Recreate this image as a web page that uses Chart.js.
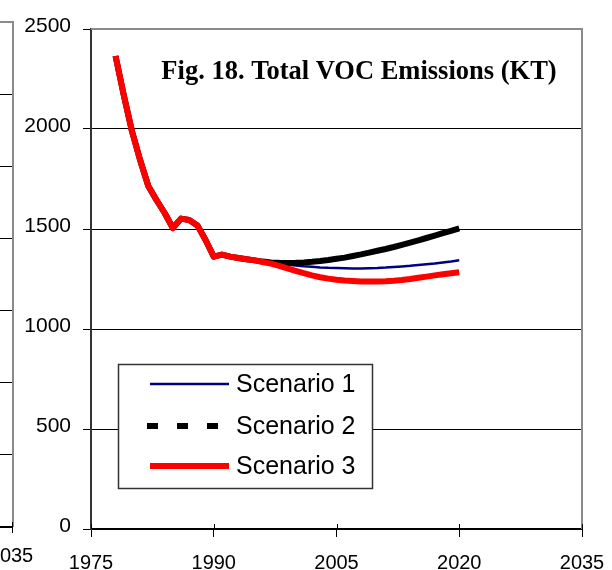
<!DOCTYPE html>
<html>
<head>
<meta charset="utf-8">
<script src="https://cdn.jsdelivr.net/npm/chart.js@4/dist/chart.umd.min.js"></script>
<style>
  html, body { margin: 0; padding: 0; background: #fff; }
  #wrap { width: 612px; height: 570px; }
</style>
</head>
<body>
<div id="wrap"><canvas id="c" width="612" height="570"></canvas></div>
<script>
// Annual totals, kilotonnes
const years = [1978,1979,1980,1981,1982,1983,1984,1985,1986,1987,1988,1989,1990,1991,1992,1993,1994,1995,
               1996,1997,1998,1999,2000,2001,2002,2003,2004,2005,2006,2007,2008,2009,2010,2011,2012,2013,
               2014,2015,2016,2017,2018,2019,2020];

const scenario1 = [2365,2170,1990,1845,1715,1645,1580,1505,1552,1545,1518,1445,1362,1372,1362,1355,1349,1343,
                   1337,1332,1327,1322,1318,1314,1311,1308,1306,1305,1304,1303,1303,1304,1305,1307,1310,1313,
                   1316,1320,1324,1328,1333,1338,1344];

const scenario2 = [2365,2170,1990,1845,1715,1645,1580,1505,1552,1545,1518,1445,1362,1372,1362,1355,1349,1343,
                   1337,1333,1331,1330,1331,1333,1336,1340,1345,1351,1357,1365,1373,1382,1391,1400,1410,1421,
                   1432,1443,1455,1467,1479,1491,1503];

const scenario3 = [2365,2170,1990,1845,1715,1645,1580,1505,1552,1545,1518,1445,1362,1372,1362,1355,1349,1343,
                   1335,1327,1316,1303,1291,1279,1268,1259,1252,1246,1242,1240,1238,1238,1238,1239,1241,1245,
                   1250,1256,1262,1268,1274,1279,1284];

const seriesNames = ['Scenario 1', 'Scenario 2', 'Scenario 3'];
const xTicks = [1975, 1990, 2005, 2020, 2035];
const yTicks = [0, 500, 1000, 1500, 2000, 2500];
const titleText = 'Fig. 18. Total VOC Emissions (KT)';

const toPoints = vals => years.map((yr, i) => ({ x: yr, y: vals[i] }));

// Title drawn inside the plot frame
const titlePlugin = {
  id: 'insideTitle',
  afterDraw(chart) {
    const c = chart.ctx;
    c.save();
    c.fillStyle = '#000';
    c.font = 'bold 26.5px "Liberation Serif"';
    c.textAlign = 'center';
    c.textBaseline = 'alphabetic';
    c.fillText(titleText, 359, 79);
    c.restore();
  }
};

// Gray frame on the top and right of the plot, crossing ticks on the x axis
const framePlugin = {
  id: 'frame',
  afterDatasetsDraw(chart) {
    const a = chart.chartArea, c = chart.ctx;
    c.save();
    c.strokeStyle = '#8a8a8a';
    c.lineWidth = 2;
    c.beginPath();
    c.moveTo(a.left, a.top);
    c.lineTo(a.right, a.top);
    c.lineTo(a.right, a.bottom);
    c.stroke();
    const xs = chart.scales.x;
    c.strokeStyle = '#000';
    c.lineWidth = 1;
    xs.ticks.forEach(t => {
      const px = Math.round(xs.getPixelForValue(t.value)) + 0.5;
      c.beginPath();
      c.moveTo(px, a.bottom - 5);
      c.lineTo(px, a.bottom);
      c.stroke();
    });
    c.restore();
  }
};

// Legend box with line samples
const legendPlugin = {
  id: 'boxLegend',
  afterDraw(chart) {
    const c = chart.ctx;
    const box = { x: 118.5, y: 364.5, w: 254, h: 124 };
    c.save();
    c.fillStyle = '#fff';
    c.fillRect(box.x, box.y, box.w, box.h);
    c.strokeStyle = '#333';
    c.lineWidth = 1.5;
    c.strokeRect(box.x, box.y, box.w, box.h);
    const rows = [384, 426, 466];
    const dashes = [[], [11, 19], []];
    chart.data.datasets.forEach((ds, i) => {
      const y = rows[i];
      c.strokeStyle = ds.borderColor;
      c.lineWidth = ds.borderWidth;
      c.setLineDash(dashes[i]);
      c.lineCap = 'butt';
      c.beginPath();
      if (i === 1) { c.moveTo(147, y); c.lineTo(220, y); }
      else { c.moveTo(150, y); c.lineTo(229, y); }
      c.stroke();
      c.setLineDash([]);
      c.fillStyle = '#000';
      c.font = '25px "Liberation Sans"';
      c.textAlign = 'left';
      c.textBaseline = 'middle';
      c.fillText(ds.label, 236, y + 1);
    });
    c.restore();
  }
};

// Edge of the neighbouring panel on the left
const sidePanelPlugin = {
  id: 'sidePanel',
  afterDraw(chart) {
    const c = chart.ctx;
    c.save();
    c.strokeStyle = '#000';
    c.lineWidth = 1;
    [94, 166, 238, 310, 382, 454].forEach(y => {
      c.beginPath(); c.moveTo(0, y + 0.5); c.lineTo(12, y + 0.5); c.stroke();
    });
    c.strokeStyle = '#8a8a8a';
    c.lineWidth = 2;
    c.beginPath(); c.moveTo(0, 22); c.lineTo(13, 22); c.lineTo(13, 527); c.stroke();
    c.strokeStyle = '#000';
    c.beginPath(); c.moveTo(0, 527); c.lineTo(13, 527); c.stroke();
    c.lineWidth = 1;
    c.beginPath(); c.moveTo(12.5, 522); c.lineTo(12.5, 533); c.stroke();
    c.fillStyle = '#000';
    c.font = '20px "Liberation Sans"';
    c.textAlign = 'center';
    c.textBaseline = 'alphabetic';
    c.fillText('2035', 11, 562);
    c.restore();
  }
};

const tickFont = { family: '"Liberation Sans", Arial, sans-serif', size: 20 };
const yTickFont = { family: '"Liberation Sans", Arial, sans-serif', size: 21 };

new Chart(document.getElementById('c'), {
  type: 'line',
  data: {
    datasets: [
      { label: seriesNames[0], data: toPoints(scenario1), borderColor: '#000080', borderWidth: 2.5, order: 3 },
      { label: seriesNames[1], data: toPoints(scenario2), borderColor: '#000000', borderWidth: 6, order: 2 },
      { label: seriesNames[2], data: toPoints(scenario3), borderColor: '#ff0000', borderWidth: 6, order: 1 }
    ]
  },
  options: {
    responsive: false,
    animation: false,
    devicePixelRatio: 1,
    elements: {
      point: { radius: 0, hoverRadius: 0 },
      line: { tension: 0, fill: false, borderJoinStyle: 'round' }
    },
    layout: { padding: { left: 0, right: 30, top: 29, bottom: 0 } },
    plugins: {
      legend: { display: false },
      tooltip: { enabled: false },
      title: { display: false }
    },
    scales: {
      x: {
        type: 'linear',
        min: xTicks[0],
        max: xTicks[xTicks.length - 1],
        afterBuildTicks: s => { s.ticks = xTicks.map(v => ({ value: v })); },
        afterFit: s => { s.height = 41; s.paddingLeft = 0; s.paddingRight = 0; },
        ticks: {
          font: tickFont, color: '#000', padding: 14, maxRotation: 0,
          callback: v => String(v)
        },
        grid: { drawOnChartArea: false, drawTicks: true, tickLength: 8, color: '#000', lineWidth: 1 },
        border: { color: '#000', width: 2 }
      },
      y: {
        min: yTicks[0],
        max: yTicks[yTicks.length - 1],
        afterBuildTicks: s => { s.ticks = yTicks.map(v => ({ value: v })); },
        afterFit: s => { s.width = 91; },
        ticks: {
          font: yTickFont, color: '#000', padding: 12, labelOffset: -3,
          callback: v => String(v)
        },
        grid: { color: '#000', lineWidth: 1, tickLength: 8 },
        border: { color: '#333', width: 2 }
      }
    }
  },
  plugins: [framePlugin, sidePanelPlugin, titlePlugin, legendPlugin]
});
</script>
</body>
</html>
